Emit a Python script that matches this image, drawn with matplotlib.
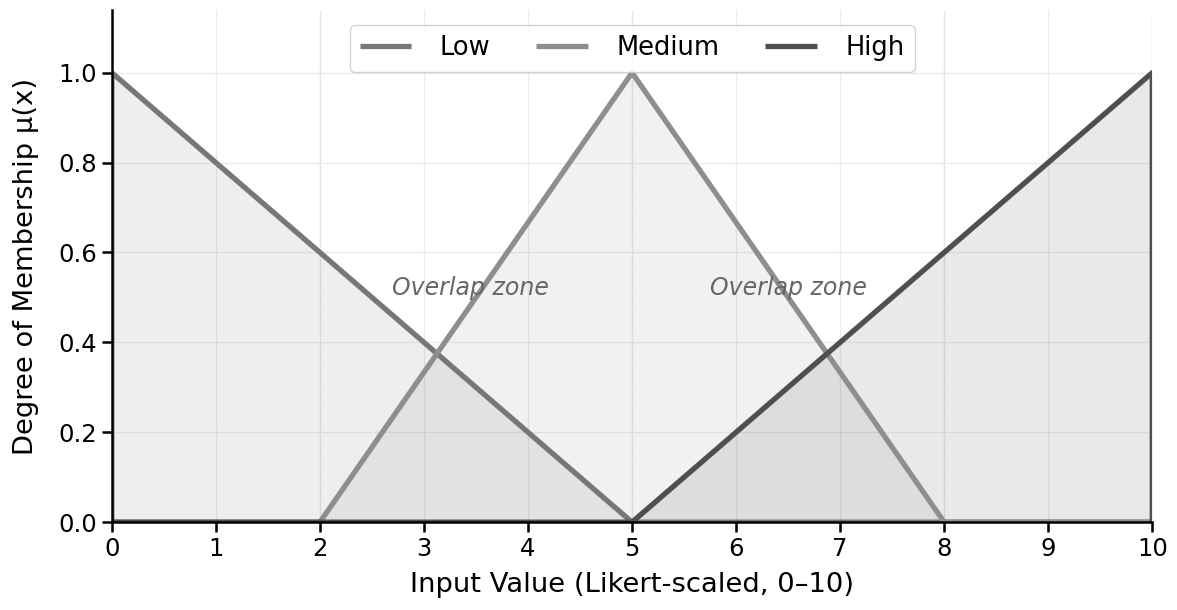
import numpy as np
import matplotlib
matplotlib.use("Agg")
from matplotlib import pyplot as plt

# membership function breakpoints
low_x = [0, 0, 5, 10]
low_y = [0, 1, 0, 0]
med_x = [0, 2, 5, 8, 10]
med_y = [0, 0, 1, 0, 0]
high_x = [0, 5, 10, 10]
high_y = [0, 0, 1, 0]
breaks = [0, 2, 5, 8, 10]

names = ['Low', 'Medium', 'High']
colors = ['#777777', '#8e8e8e', '#4f4f4f']

fig, ax = plt.subplots(figsize=(11.77, 6.1), dpi=100)

for xs, ys, c, n in zip([low_x, med_x, high_x], [low_y, med_y, high_y], colors, names):
    ax.fill_between(xs, ys, 0, color=c, alpha=0.12, linewidth=0)
    ax.plot(xs, ys, color=c, lw=3.8, label=n, solid_capstyle='butt')

for b in breaks:
    ax.axvline(b, color='#bbbbbb', ls=':', lw=0.9, zorder=0)

ax.text(3.45, 0.52, 'Overlap zone', fontsize=17, style='italic', color='#666666', ha='center', va='center')
ax.text(6.5, 0.52, 'Overlap zone', fontsize=17, style='italic', color='#666666', ha='center', va='center')

ax.set_xlim(0, 10)
ax.set_ylim(0, 1.14)
ax.set_xticks(range(11))
ax.set_yticks([0, 0.2, 0.4, 0.6, 0.8, 1.0])
ax.tick_params(labelsize=17.5, width=1.8, length=7)
ax.grid(True, color='#e6e6e6', lw=0.9, alpha=0.8)
ax.set_axisbelow(True)
ax.spines['top'].set_visible(False)
ax.spines['right'].set_visible(False)
ax.spines['left'].set_linewidth(1.8)
ax.spines['bottom'].set_linewidth(1.8)
ax.set_xlabel('Input Value (Likert-scaled, 0–10)', fontsize=19.7, labelpad=8)
ax.set_ylabel('Degree of Membership μ(x)', fontsize=19.7, labelpad=14)
ax.legend(loc='upper center', ncol=3, fontsize=18.5, handlelength=2.0, handletextpad=1.1,
          columnspacing=1.8, bbox_to_anchor=(0.5, 0.995), framealpha=0.85)

plt.subplots_adjust(left=0.095, right=0.979, top=0.984, bottom=0.144)
plt.savefig('out.png', dpi=100)
